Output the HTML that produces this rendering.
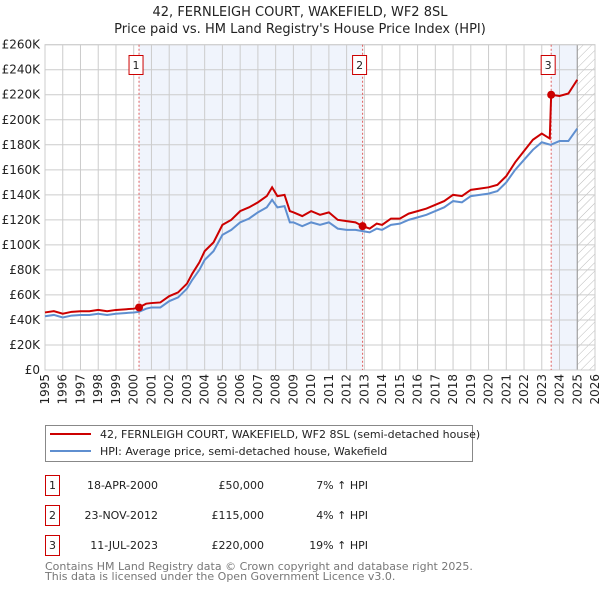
<!DOCTYPE html>
<html><head><meta charset="utf-8"><style>
body{margin:0;background:#fff;width:600px;height:590px;overflow:hidden;font-family:"DejaVu Sans","Liberation Sans",sans-serif}
svg text{font-family:"DejaVu Sans","Liberation Sans",sans-serif}
</style></head><body>
<svg id="c" width="600" height="590" viewBox="0 0 600 590">
<defs><pattern id="hatch" width="6" height="6" patternUnits="userSpaceOnUse" patternTransform="rotate(45)"><line x1="0" y1="0" x2="0" y2="6" stroke="#bbb" stroke-width="1"/></pattern></defs>
<text x="300" y="16" text-anchor="middle" font-size="13" fill="#222">42, FERNLEIGH COURT, WAKEFIELD, WF2 8SL</text>
<text x="300" y="33" text-anchor="middle" font-size="13" fill="#222">Price paid vs. HM Land Registry's House Price Index (HPI)</text>
<g id="plot"></g>
<g>
<rect x="45.5" y="425.5" width="427" height="36" fill="#fff" stroke="#888"/>
<line x1="50" y1="434" x2="91" y2="434" stroke="#cc0000" stroke-width="2"/>
<text x="100" y="438" font-size="11" fill="#222">42, FERNLEIGH COURT, WAKEFIELD, WF2 8SL (semi-detached house)</text>
<line x1="50" y1="451" x2="91" y2="451" stroke="#5f8fd0" stroke-width="2"/>
<text x="100" y="455" font-size="11" fill="#222">HPI: Average price, semi-detached house, Wakefield</text>
</g>
<g id="table" font-size="11" fill="#222"></g>
<text x="45" y="570" font-size="11" fill="#777">Contains HM Land Registry data © Crown copyright and database right 2025.</text>
<text x="45" y="580" font-size="11" fill="#777">This data is licensed under the Open Government Licence v3.0.</text>
</svg>
<script>
const hpiT=[1995,1995.5,1996,1996.5,1997,1997.5,1998,1998.5,1999,1999.5,2000,2000.3,2000.7,2001,2001.5,2002,2002.5,2003,2003.3,2003.7,2004,2004.5,2005,2005.5,2006,2006.5,2007,2007.5,2007.8,2008.1,2008.5,2008.8,2009,2009.5,2010,2010.5,2011,2011.5,2012,2012.5,2012.9,2013.3,2013.7,2014,2014.5,2015,2015.5,2016,2016.5,2017,2017.5,2018,2018.5,2019,2019.5,2020,2020.5,2021,2021.5,2022,2022.5,2023,2023.5,2024,2024.5,2025];
const hpiV=[43,44,42,43.5,44,44,45,44,45,45.5,46,46.5,49,50,50,55,58,65,72,80,88,95,108,112,118,121,126,130,136,130,131,118,118,115,118,116,118,113,112,112,111,110,113,112,116,117,120,122,124,127,130,135,134,139,140,141,143,150,160,168,176,182,180,183,183,193];
const redT=[1995,1995.5,1996,1996.5,1997,1997.5,1998,1998.5,1999,1999.5,2000,2000.3,2000.7,2001,2001.5,2002,2002.5,2003,2003.3,2003.7,2004,2004.5,2005,2005.5,2006,2006.5,2007,2007.5,2007.8,2008.1,2008.5,2008.8,2009,2009.5,2010,2010.5,2011,2011.5,2012,2012.5,2012.9,2013.3,2013.7,2014,2014.5,2015,2015.5,2016,2016.5,2017,2017.5,2018,2018.5,2019,2019.5,2020,2020.5,2021,2021.5,2022,2022.5,2023,2023.45,2023.53,2024,2024.5,2025];
const redV=[46,47,45,46.5,47,47,48,47,48,48.5,49,50,53,53.5,54,59,62,69,77,86,95,102,116,120,127,130,134,139,146,139,140,127,126,123,127,124,126,120,119,118,115,113,117,116,121,121,125,127,129,132,135,140,139,144,145,146,148,155,166,175,184,189,185,220,219,221,232];
const saleLabels=["1","2","3"];
const saleT=[2000.3,2012.9,2023.53];
const saleV=[50,115,220];
const saleDates=["18-APR-2000","23-NOV-2012","11-JUL-2023"];
const salePrices=["£50,000","£115,000","£220,000"];
const saleHpi=["7% ↑ HPI","4% ↑ HPI","19% ↑ HPI"];
const yTicks=[0,20,40,60,80,100,120,140,160,180,200,220,240,260];
const xTicks=[1995,1996,1997,1998,1999,2000,2001,2002,2003,2004,2005,2006,2007,2008,2009,2010,2011,2012,2013,2014,2015,2016,2017,2018,2019,2020,2021,2022,2023,2024,2025,2026];

const NS="http://www.w3.org/2000/svg";
const X0=45,X1=595,Y0=370,Y1=44.7;
const x=t=>X0+(t-1995)/(2026-1995)*(X1-X0);
const y=v=>Y0-v/260*(Y0-Y1);
const plot=document.getElementById('plot');
function mk(tag,attrs,parent){const e=document.createElementNS(NS,tag);for(const k in attrs)e.setAttribute(k,attrs[k]);(parent||plot).appendChild(e);return e;}

let r;
r=mk('rect',{x:x(saleT[0]),y:Y1,width:x(saleT[1])-x(saleT[0]),height:Y0-Y1,fill:'#f0f4fc'});


r=mk('rect',{x:x(saleT[2]),y:Y1,width:x(2025)-x(saleT[2]),height:Y0-Y1,fill:'#f0f4fc'});


r=mk('rect',{x:x(2025),y:Y1,width:X1-x(2025),height:Y0-Y1,fill:'url(#hatch)'});



yTicks.forEach(v=>{
  const l=mk('line',{x1:X0,x2:X1,y1:y(v),y2:y(v),stroke:'#ccc','stroke-width':1});
  
  
  const t=mk('text',{x:X0-5,y:y(v)+4,'text-anchor':'end','font-size':12,fill:'#222'});
  
  
  t.textContent=v===0?'£0':'£'+v+'K';
});
xTicks.forEach(yr=>{
  const l=mk('line',{x1:x(yr),x2:x(yr),y1:Y1,y2:Y0,stroke:'#ccc','stroke-width':1});
  
  
  const t=mk('text',{x:0,y:0,'text-anchor':'end','font-size':12,fill:'#222',transform:`translate(${x(yr)+4},374) rotate(-90)`});
  
  
  t.textContent=yr;
});
r=mk('line',{x1:x(2025),x2:x(2025),y1:Y1,y2:Y0,stroke:'#999','stroke-width':1});


r=mk('rect',{x:X0,y:Y1,width:X1-X0,height:Y0-Y1,fill:'none',stroke:'#ccc'});



saleT.forEach((t,i)=>{
  const l=mk('line',{x1:x(t),x2:x(t),y1:Y1,y2:Y0,stroke:'#e06060','stroke-width':1,'stroke-dasharray':'2,2'});
  
  
});

const hp=mk('polyline',{points:hpiT.map((t,i)=>x(t)+','+y(hpiV[i])).join(' '),fill:'none',stroke:'#5f8fd0','stroke-width':2});


const rp=mk('polyline',{points:redT.map((t,i)=>x(t)+','+y(redV[i])).join(' '),fill:'none',stroke:'#cc0000','stroke-width':2});



saleT.forEach((t,i)=>{
  const c=mk('circle',{cx:x(t),cy:y(saleV[i]),r:4,fill:'#cc0000'});
  
  
  const g=mk('g',{});
  
  
  mk('rect',{x:x(t)-10,y:55.5,width:14,height:19,fill:'#fff',stroke:'#cc0000'},g);
  const tx=mk('text',{x:x(t)-3,y:69,'text-anchor':'middle','font-size':11,fill:'#222'},g);
  tx.textContent=saleLabels[i];
});

const tbl=document.getElementById('table');
saleLabels.forEach((s,i)=>{
  const yy=475+i*30;
  const g=mk('g',{},tbl);
  
  
  mk('rect',{x:45.5,y:yy+0.5,width:14,height:20,fill:'#fff',stroke:'#cc0000'},g);
  let t=mk('text',{x:52.5,y:yy+14,'text-anchor':'middle'},g);t.textContent=s;
  t=mk('text',{x:158,y:yy+14,'text-anchor':'end'},g);t.textContent=saleDates[i];
  t=mk('text',{x:264,y:yy+14,'text-anchor':'end'},g);t.textContent=salePrices[i];
  t=mk('text',{x:368,y:yy+14,'text-anchor':'end'},g);t.textContent=saleHpi[i];
});
</script>
</body></html>
